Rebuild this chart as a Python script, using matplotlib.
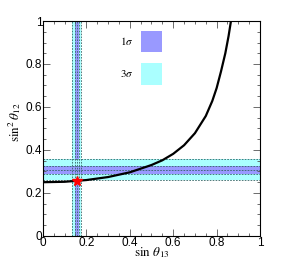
import matplotlib
matplotlib.use('Agg')
from matplotlib import pyplot as plt
from matplotlib.ticker import MultipleLocator

plt.rcParams['font.family'] = ['Liberation Sans', 'DejaVu Sans']
plt.rcParams['mathtext.fontset'] = 'stix'

# curve
curve_x = [0.0, 0.1, 0.2, 0.3, 0.4, 0.5, 0.55, 0.6, 0.65, 0.7, 0.75, 0.78, 0.8, 0.82, 0.84, 0.855, 0.866]
curve_y = [0.250, 0.252, 0.260, 0.274, 0.296, 0.330, 0.352, 0.382, 0.422, 0.478, 0.558, 0.628, 0.688, 0.765, 0.85, 0.93, 1.0]

# sin(theta13) bands
s13_3sig = [0.134, 0.175]
s13_1sig = [0.146, 0.164]
s13_best = 0.155
# sin^2(theta12) bands
s12_3sig = [0.259, 0.360]
s12_1sig = [0.290, 0.326]
s12_best = 0.308

star_x = [0.155]
star_y = [0.255]

tick_pos = [0, 0.2, 0.4, 0.6, 0.8, 1.0]
tick_lab = ['0', '0.2', '0.4', '0.6', '0.8', '1']

c1 = '#9999ff'
c3 = '#aaffff'

fig = plt.figure(figsize=(2.88, 2.66), dpi=100)
ax = fig.add_axes([0.149, 0.113, 0.754, 0.808])

ax.axvspan(s13_3sig[0], s13_3sig[1], color=c3, lw=0)
ax.axvspan(s13_1sig[0], s13_1sig[1], color=c1, lw=0)
ax.axhspan(s12_3sig[0], s12_3sig[1], color=c3, lw=0)
ax.axhspan(s12_1sig[0], s12_1sig[1], color=c1, lw=0)

for v in s13_3sig + s13_1sig + [s13_best]:
    ax.axvline(v, color='#336666', ls='--', lw=0.6, dashes=(2, 1.5))
for v in s12_3sig + s12_1sig + [s12_best]:
    ax.axhline(v, color='#336666', ls='--', lw=0.6, dashes=(2, 1.5))

ax.plot(curve_x, curve_y, color='black', lw=1.6)
ax.plot(star_x, star_y, marker='*', color='red', ms=7, ls='none')

# legend boxes
ax.fill_between([0.45, 0.55], 0.856, 0.953, color=c1, lw=0)
ax.fill_between([0.45, 0.55], 0.702, 0.806, color=c3, lw=0)
ax.text(0.415, 0.905, r'$1\sigma$', ha='right', va='center', fontsize=8)
ax.text(0.415, 0.754, r'$3\sigma$', ha='right', va='center', fontsize=8)

ax.set_xlim(0, 1)
ax.set_ylim(0, 1)
ax.set_xticks(tick_pos, tick_lab)
ax.set_yticks(tick_pos, tick_lab)
ax.xaxis.set_minor_locator(MultipleLocator(0.05))
ax.yaxis.set_minor_locator(MultipleLocator(0.05))
ax.tick_params(which='both', direction='in', top=True, right=True, labelsize=8.5, width=0.6, color='#555555')
ax.tick_params(which='major', length=5)
ax.tick_params(which='minor', length=2.5)
ax.tick_params(axis='x', pad=1)
ax.tick_params(axis='y', pad=0.5)

ax.set_xlabel(r'$\sin\,\theta_{13}$', fontsize=9.5, labelpad=-3)
ax.set_ylabel(r'$\sin^2\theta_{12}$', fontsize=9.5)
ax.yaxis.set_label_coords(-0.09, 0.53)
for s in ax.spines.values():
    s.set_linewidth(0.8)

plt.savefig('out.png', dpi=100)
